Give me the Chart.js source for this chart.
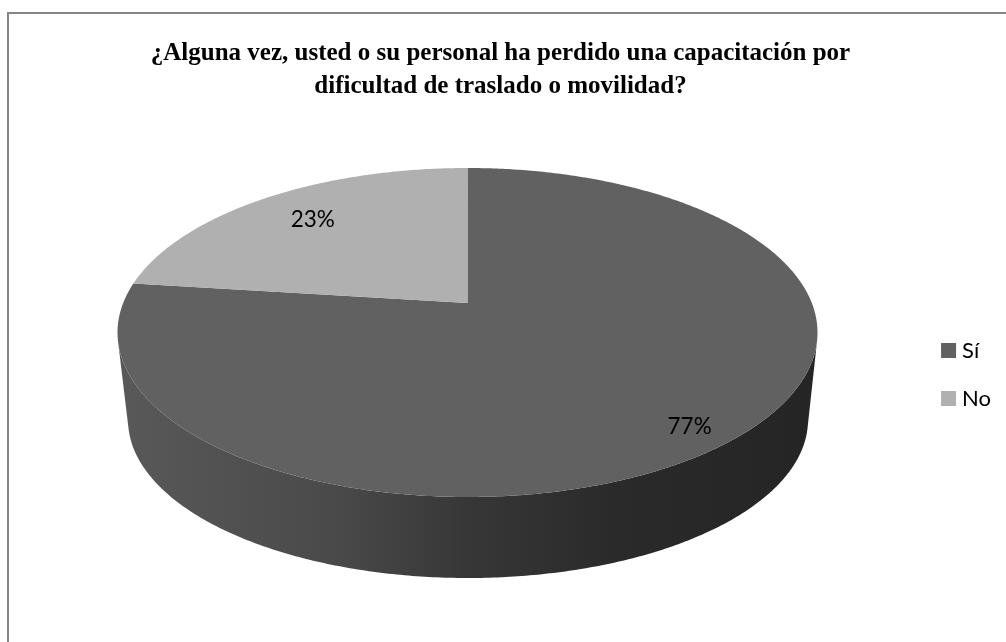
<!DOCTYPE html>
<html>
<head>
<meta charset="utf-8">
<style>
  html, body { margin: 0; padding: 0; background: #fff; }
  canvas { display: block; }
</style>
<script src="https://cdn.jsdelivr.net/npm/chart.js@4"></script>
</head>
<body>
<canvas id="pie-chart" width="1006" height="642"></canvas>
<script>
const categories = ['Sí', 'No'];
const percentages = [77, 23];
const sliceColors = ['#616161', '#b0b0b0'];
const titleLines = [
    '¿Alguna vez, usted o su personal ha perdido una capacitación por',
    'dificultad de traslado o movilidad?'
];

// top and bottom rim of the tilted pie, in pixels
const topRim = { cx: 467.5, cy: 332.5, rx: 350, ry: 164.5, k: -0.179 };
const bottomRim = { cx: 468, cy: 420, rx: 340, ry: 158, k: -0.179 };

// angle on the pie -> pixel, center of the pie is pushed back by perspective
function project(rim, angle, radius) {
    const u = Math.cos(angle) * radius;
    const v = Math.sin(angle) * radius;
    const w = 1 + rim.k * v;
    return {
        x: rim.cx + rim.rx * u * Math.sqrt(1 - rim.k * rim.k) / w,
        y: rim.cy + rim.ry * (v + rim.k) / w
    };
}

function rimPoints(rim, from, to) {
    const steps = Math.max(2, Math.ceil(Math.abs(to - from) / 0.01));
    const points = [];
    for (let i = 0; i <= steps; i++) {
        points.push(project(rim, from + (to - from) * i / steps, 1));
    }
    return points;
}

function fillPoints(ctx, points, fill) {
    ctx.beginPath();
    points.forEach((p, i) => i ? ctx.lineTo(p.x, p.y) : ctx.moveTo(p.x, p.y));
    ctx.closePath();
    ctx.fillStyle = fill;
    ctx.fill();
}

// the side of a slice, only the strips that face the viewer
function fillWall(ctx, from, to, fill) {
    const upper = rimPoints(topRim, from, to);
    const lower = rimPoints(bottomRim, from, to);
    ctx.beginPath();
    for (let i = 0; i < upper.length - 1; i++) {
        const a = upper[i], b = upper[i + 1], c = lower[i + 1], d = lower[i];
        const facing = (b.x - a.x) * (d.y - a.y) - (b.y - a.y) * (d.x - a.x);
        if (facing >= 0) continue;
        ctx.moveTo(a.x, a.y);
        ctx.lineTo(b.x, b.y);
        ctx.lineTo(c.x, c.y);
        ctx.lineTo(d.x, d.y);
        ctx.closePath();
    }
    ctx.fillStyle = fill;
    ctx.fill();
}

const tiltedPie = {
    id: 'tiltedPie',
    // the legend sits lower than the middle of the free space
    afterLayout(chart) {
        chart.legend.top += 35;
        chart.legend.bottom += 35;
    },
    beforeDraw(chart) {
        const ctx = chart.ctx;
        ctx.save();
        ctx.strokeStyle = '#868686';
        ctx.lineWidth = 2;
        ctx.beginPath();
        ctx.moveTo(8, 642);
        ctx.lineTo(8, 13);
        ctx.lineTo(1006, 13);
        ctx.stroke();
        ctx.restore();
    },
    // draws the arcs chart.js laid out, through the perspective above
    beforeDatasetDraw(chart) {
        const ctx = chart.ctx;
        const arcs = chart.getDatasetMeta(0).data;
        const wall = ctx.createLinearGradient(128, 0, 806, 0);
        wall.addColorStop(0, '#585858');
        wall.addColorStop(0.3, '#4a4a4a');
        wall.addColorStop(0.5, '#373737');
        wall.addColorStop(0.72, '#2a2a2a');
        wall.addColorStop(1, '#252525');
        ctx.save();
        arcs.forEach(arc => {
            const p = arc.getProps(['startAngle', 'endAngle'], true);
            fillWall(ctx, p.startAngle, p.endAngle, wall);
        });
        arcs.forEach((arc, i) => {
            const p = arc.getProps(['startAngle', 'endAngle'], true);
            const points = rimPoints(topRim, p.startAngle, p.endAngle);
            points.push(project(topRim, 0, 0));
            fillPoints(ctx, points, sliceColors[i]);
        });
        ctx.restore();
        return false;
    },
    afterDatasetsDraw(chart) {
        const ctx = chart.ctx;
        const arcs = chart.getDatasetMeta(0).data;
        const labelRadius = [0.9, 0.78];
        const labelShift = [-11, 6];
        ctx.save();
        ctx.font = '22.5px Lato';
        ctx.fillStyle = '#000';
        ctx.textAlign = 'center';
        ctx.textBaseline = 'middle';
        arcs.forEach((arc, i) => {
            const p = arc.getProps(['startAngle', 'endAngle'], true);
            const at = project(topRim, (p.startAngle + p.endAngle) / 2, labelRadius[i]);
            ctx.fillText(percentages[i] + '%', at.x + labelShift[i], at.y + 1);
        });
        ctx.restore();
    }
};

new Chart(document.getElementById('pie-chart'), {
    type: 'pie',
    data: {
        labels: categories,
        datasets: [{
            data: percentages,
            backgroundColor: sliceColors,
            borderWidth: 0
        }]
    },
    options: {
        responsive: false,
        animation: false,
        layout: { padding: { top: 37, right: 5, bottom: 0 } },
        plugins: {
            tooltip: { enabled: false },
            title: {
                display: true,
                text: titleLines,
                color: '#000',
                font: { family: '"Liberation Serif"', size: 25, weight: 'bold', lineHeight: 1.32 },
                padding: { top: 0, bottom: 8 }
            },
            legend: {
                position: 'right',
                labels: {
                    color: '#000',
                    font: { family: 'Lato', size: 22 },
                    // thick stroke around a small box keeps the text close to the swatch
                    boxWidth: 5,
                    boxHeight: 5,
                    padding: 26,
                    generateLabels(chart) {
                        return Chart.overrides.pie.plugins.legend.labels.generateLabels(chart).map(item => ({
                            ...item,
                            strokeStyle: item.fillStyle,
                            lineWidth: 10
                        }));
                    }
                }
            }
        }
    },
    plugins: [tiltedPie]
});
</script>
</body>
</html>
